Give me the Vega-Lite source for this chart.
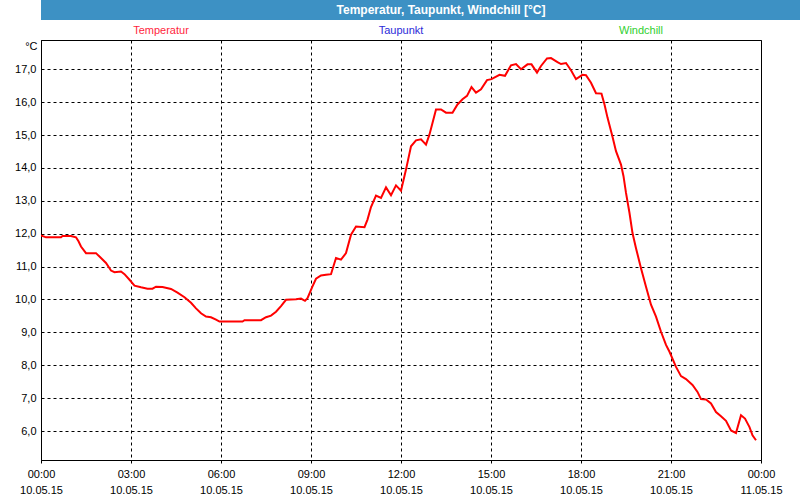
{
  "$schema": "https://vega.github.io/schema/vega-lite/v6.json",
  "background": "white",
  "padding": 0,
  "spacing": 4,
  "align": "none",
  "config": {
    "font": "Liberation Sans",
    "axis": {"labelFont": "Liberation Sans", "labelColor": "black", "labelFontSize": 11, "titleFont": "Liberation Sans", "titleColor": "black"},
    "axisY": {
      "values": [6, 7, 8, 9, 10, 11, 12, 13, 14, 15, 16, 17],
      "tickCount": 12,
      "labelOverlap": false,
      "labelExpr": "replace(format(datum.value, '.1f'), '.', ',')",
      "titleAngle": 0,
      "titleX": -4,
      "titleY": 6,
      "titleAlign": "right",
      "titleBaseline": "middle",
      "titleFontWeight": "normal",
      "titleFontSize": 11,
      "ticks": false,
      "labelPadding": 5,
      "domainColor": "black",
      "grid": true,
      "gridColor": "black",
      "gridDash": [3, 3],
      "minExtent": 40,
      "maxExtent": 40
    },
    "concat": {"spacing": 4}
  },
  "vconcat": [
    {
      "width": 800,
      "height": 20,
      "view": {"fill": "#3d91c4", "stroke": null},
      "data": {"values": [{"t": "Temperatur, Taupunkt, Windchill [°C]"}]},
      "mark": {"type": "text", "color": "white", "fontWeight": "bold", "fontSize": 12, "font": "Liberation Sans", "baseline": "middle", "align": "center"},
      "encoding": {"text": {"field": "t", "type": "nominal"}}
    },
    {
      "width": 720,
      "height": 420,
      "view": {"stroke": "black", "strokeWidth": 1},
      "resolve": {"scale": {"x": "independent", "color": "independent"}, "axis": {"x": "independent"}},
      "layer": [
        {
          "data": {"values": [
            {"time": "2015-05-10T00:00", "temp": 11.95},
            {"time": "2015-05-10T00:10", "temp": 11.89},
            {"time": "2015-05-10T00:40", "temp": 11.89},
            {"time": "2015-05-10T00:43", "temp": 11.93},
            {"time": "2015-05-10T01:00", "temp": 11.93},
            {"time": "2015-05-10T01:10", "temp": 11.89},
            {"time": "2015-05-10T01:15", "temp": 11.77},
            {"time": "2015-05-10T01:20", "temp": 11.61},
            {"time": "2015-05-10T01:30", "temp": 11.41},
            {"time": "2015-05-10T01:50", "temp": 11.41},
            {"time": "2015-05-10T02:00", "temp": 11.26},
            {"time": "2015-05-10T02:10", "temp": 11.11},
            {"time": "2015-05-10T02:20", "temp": 10.88},
            {"time": "2015-05-10T02:27", "temp": 10.83},
            {"time": "2015-05-10T02:40", "temp": 10.85},
            {"time": "2015-05-10T02:47", "temp": 10.77},
            {"time": "2015-05-10T02:57", "temp": 10.60},
            {"time": "2015-05-10T03:07", "temp": 10.42},
            {"time": "2015-05-10T03:20", "temp": 10.37},
            {"time": "2015-05-10T03:33", "temp": 10.33},
            {"time": "2015-05-10T03:43", "temp": 10.33},
            {"time": "2015-05-10T03:50", "temp": 10.39},
            {"time": "2015-05-10T04:03", "temp": 10.38},
            {"time": "2015-05-10T04:20", "temp": 10.32},
            {"time": "2015-05-10T04:33", "temp": 10.21},
            {"time": "2015-05-10T04:47", "temp": 10.07},
            {"time": "2015-05-10T05:00", "temp": 9.90},
            {"time": "2015-05-10T05:10", "temp": 9.73},
            {"time": "2015-05-10T05:20", "temp": 9.58},
            {"time": "2015-05-10T05:30", "temp": 9.48},
            {"time": "2015-05-10T05:40", "temp": 9.46},
            {"time": "2015-05-10T05:50", "temp": 9.39},
            {"time": "2015-05-10T05:57", "temp": 9.33},
            {"time": "2015-05-10T06:43", "temp": 9.33},
            {"time": "2015-05-10T06:47", "temp": 9.37},
            {"time": "2015-05-10T07:20", "temp": 9.37},
            {"time": "2015-05-10T07:30", "temp": 9.46},
            {"time": "2015-05-10T07:40", "temp": 9.51},
            {"time": "2015-05-10T07:50", "temp": 9.63},
            {"time": "2015-05-10T08:00", "temp": 9.80},
            {"time": "2015-05-10T08:10", "temp": 9.99},
            {"time": "2015-05-10T08:30", "temp": 10.01},
            {"time": "2015-05-10T08:40", "temp": 10.03},
            {"time": "2015-05-10T08:48", "temp": 9.96},
            {"time": "2015-05-10T08:53", "temp": 10.04},
            {"time": "2015-05-10T09:03", "temp": 10.40},
            {"time": "2015-05-10T09:10", "temp": 10.63},
            {"time": "2015-05-10T09:20", "temp": 10.73},
            {"time": "2015-05-10T09:30", "temp": 10.75},
            {"time": "2015-05-10T09:40", "temp": 10.77},
            {"time": "2015-05-10T09:50", "temp": 11.26},
            {"time": "2015-05-10T10:00", "temp": 11.21},
            {"time": "2015-05-10T10:10", "temp": 11.41},
            {"time": "2015-05-10T10:20", "temp": 11.97},
            {"time": "2015-05-10T10:30", "temp": 12.22},
            {"time": "2015-05-10T10:47", "temp": 12.20},
            {"time": "2015-05-10T10:53", "temp": 12.43},
            {"time": "2015-05-10T11:00", "temp": 12.81},
            {"time": "2015-05-10T11:10", "temp": 13.16},
            {"time": "2015-05-10T11:20", "temp": 13.09},
            {"time": "2015-05-10T11:30", "temp": 13.41},
            {"time": "2015-05-10T11:40", "temp": 13.17},
            {"time": "2015-05-10T11:50", "temp": 13.47},
            {"time": "2015-05-10T12:00", "temp": 13.31},
            {"time": "2015-05-10T12:10", "temp": 13.95},
            {"time": "2015-05-10T12:20", "temp": 14.66},
            {"time": "2015-05-10T12:30", "temp": 14.84},
            {"time": "2015-05-10T12:40", "temp": 14.87},
            {"time": "2015-05-10T12:50", "temp": 14.71},
            {"time": "2015-05-10T12:57", "temp": 15.02},
            {"time": "2015-05-10T13:10", "temp": 15.78},
            {"time": "2015-05-10T13:20", "temp": 15.78},
            {"time": "2015-05-10T13:30", "temp": 15.68},
            {"time": "2015-05-10T13:43", "temp": 15.68},
            {"time": "2015-05-10T13:53", "temp": 15.93},
            {"time": "2015-05-10T14:03", "temp": 16.09},
            {"time": "2015-05-10T14:12", "temp": 16.19},
            {"time": "2015-05-10T14:21", "temp": 16.46},
            {"time": "2015-05-10T14:30", "temp": 16.29},
            {"time": "2015-05-10T14:40", "temp": 16.39},
            {"time": "2015-05-10T14:52", "temp": 16.67},
            {"time": "2015-05-10T15:01", "temp": 16.70},
            {"time": "2015-05-10T15:17", "temp": 16.83},
            {"time": "2015-05-10T15:28", "temp": 16.80},
            {"time": "2015-05-10T15:40", "temp": 17.12},
            {"time": "2015-05-10T15:50", "temp": 17.16},
            {"time": "2015-05-10T16:00", "temp": 17.00},
            {"time": "2015-05-10T16:13", "temp": 17.15},
            {"time": "2015-05-10T16:21", "temp": 17.15},
            {"time": "2015-05-10T16:32", "temp": 16.90},
            {"time": "2015-05-10T16:40", "temp": 17.10},
            {"time": "2015-05-10T16:52", "temp": 17.33},
            {"time": "2015-05-10T17:00", "temp": 17.34},
            {"time": "2015-05-10T17:13", "temp": 17.22},
            {"time": "2015-05-10T17:20", "temp": 17.16},
            {"time": "2015-05-10T17:30", "temp": 17.19},
            {"time": "2015-05-10T17:40", "temp": 16.97},
            {"time": "2015-05-10T17:50", "temp": 16.70},
            {"time": "2015-05-10T18:03", "temp": 16.83},
            {"time": "2015-05-10T18:10", "temp": 16.82},
            {"time": "2015-05-10T18:20", "temp": 16.59},
            {"time": "2015-05-10T18:30", "temp": 16.27},
            {"time": "2015-05-10T18:41", "temp": 16.26},
            {"time": "2015-05-10T18:47", "temp": 15.93},
            {"time": "2015-05-10T18:53", "temp": 15.53},
            {"time": "2015-05-10T19:03", "temp": 14.95},
            {"time": "2015-05-10T19:10", "temp": 14.51},
            {"time": "2015-05-10T19:20", "temp": 14.10},
            {"time": "2015-05-10T19:25", "temp": 13.75},
            {"time": "2015-05-10T19:30", "temp": 13.24},
            {"time": "2015-05-10T19:37", "temp": 12.63},
            {"time": "2015-05-10T19:43", "temp": 12.02},
            {"time": "2015-05-10T19:50", "temp": 11.56},
            {"time": "2015-05-10T20:00", "temp": 10.95},
            {"time": "2015-05-10T20:10", "temp": 10.39},
            {"time": "2015-05-10T20:20", "temp": 9.84},
            {"time": "2015-05-10T20:30", "temp": 9.48},
            {"time": "2015-05-10T20:40", "temp": 9.02},
            {"time": "2015-05-10T20:50", "temp": 8.62},
            {"time": "2015-05-10T20:57", "temp": 8.41},
            {"time": "2015-05-10T21:10", "temp": 7.95},
            {"time": "2015-05-10T21:20", "temp": 7.67},
            {"time": "2015-05-10T21:30", "temp": 7.58},
            {"time": "2015-05-10T21:43", "temp": 7.40},
            {"time": "2015-05-10T21:53", "temp": 7.19},
            {"time": "2015-05-10T22:00", "temp": 6.97},
            {"time": "2015-05-10T22:10", "temp": 6.96},
            {"time": "2015-05-10T22:20", "temp": 6.84},
            {"time": "2015-05-10T22:30", "temp": 6.58},
            {"time": "2015-05-10T22:40", "temp": 6.45},
            {"time": "2015-05-10T22:50", "temp": 6.31},
            {"time": "2015-05-10T23:00", "temp": 6.02},
            {"time": "2015-05-10T23:10", "temp": 5.94},
            {"time": "2015-05-10T23:20", "temp": 6.48},
            {"time": "2015-05-10T23:28", "temp": 6.38},
            {"time": "2015-05-10T23:37", "temp": 6.12},
            {"time": "2015-05-10T23:43", "temp": 5.87},
            {"time": "2015-05-10T23:50", "temp": 5.72}
          ]},
          "mark": {"type": "line", "color": "#ff0000", "strokeWidth": 2, "clip": true},
          "encoding": {
            "x": {
              "field": "time", "type": "temporal",
              "scale": {"domain": [{"year": 2015, "month": 5, "date": 10, "hours": 0}, {"year": 2015, "month": 5, "date": 11, "hours": 0}], "nice": false},
              "axis": {
                "title": null,
                "tickCount": 8,
                "labelExpr": "[timeFormat(datum.value, '%H:%M'), timeFormat(datum.value, '%d.%m.%y')]",
                "labelOverlap": false,
                "labelFlush": false,
                "labelPadding": 5,
                "labelLineHeight": 16,
                "tickSize": 3,
                "tickColor": "black",
                "domainColor": "black",
                "grid": true,
                "gridColor": "black",
                "gridDash": [3, 3]
              }
            },
            "y": {
              "field": "temp", "type": "quantitative",
              "scale": {"domain": [5.12, 17.89], "nice": false, "zero": false},
              "axis": {"title": "°C"}
            }
          }
        },
        {
          "data": {"values": [{"name": "Temperatur"}, {"name": "Taupunkt"}, {"name": "Windchill"}]},
          "mark": {"type": "text", "fontSize": 11, "font": "Liberation Sans", "baseline": "middle", "align": "center"},
          "encoding": {
            "x": {
              "field": "name", "type": "nominal",
              "scale": {"type": "point", "padding": 0.5, "domain": ["Temperatur", "Taupunkt", "Windchill"]},
              "axis": null
            },
            "y": {"datum": 18.15, "type": "quantitative", "axis": {"title": "°C"}},
            "color": {
              "field": "name", "type": "nominal",
              "scale": {"domain": ["Temperatur", "Taupunkt", "Windchill"], "range": ["#ff1f3d", "#2b2bd9", "#2fcf2f"]},
              "legend": null
            },
            "text": {"field": "name", "type": "nominal"}
          }
        }
      ]
    }
  ]
}
